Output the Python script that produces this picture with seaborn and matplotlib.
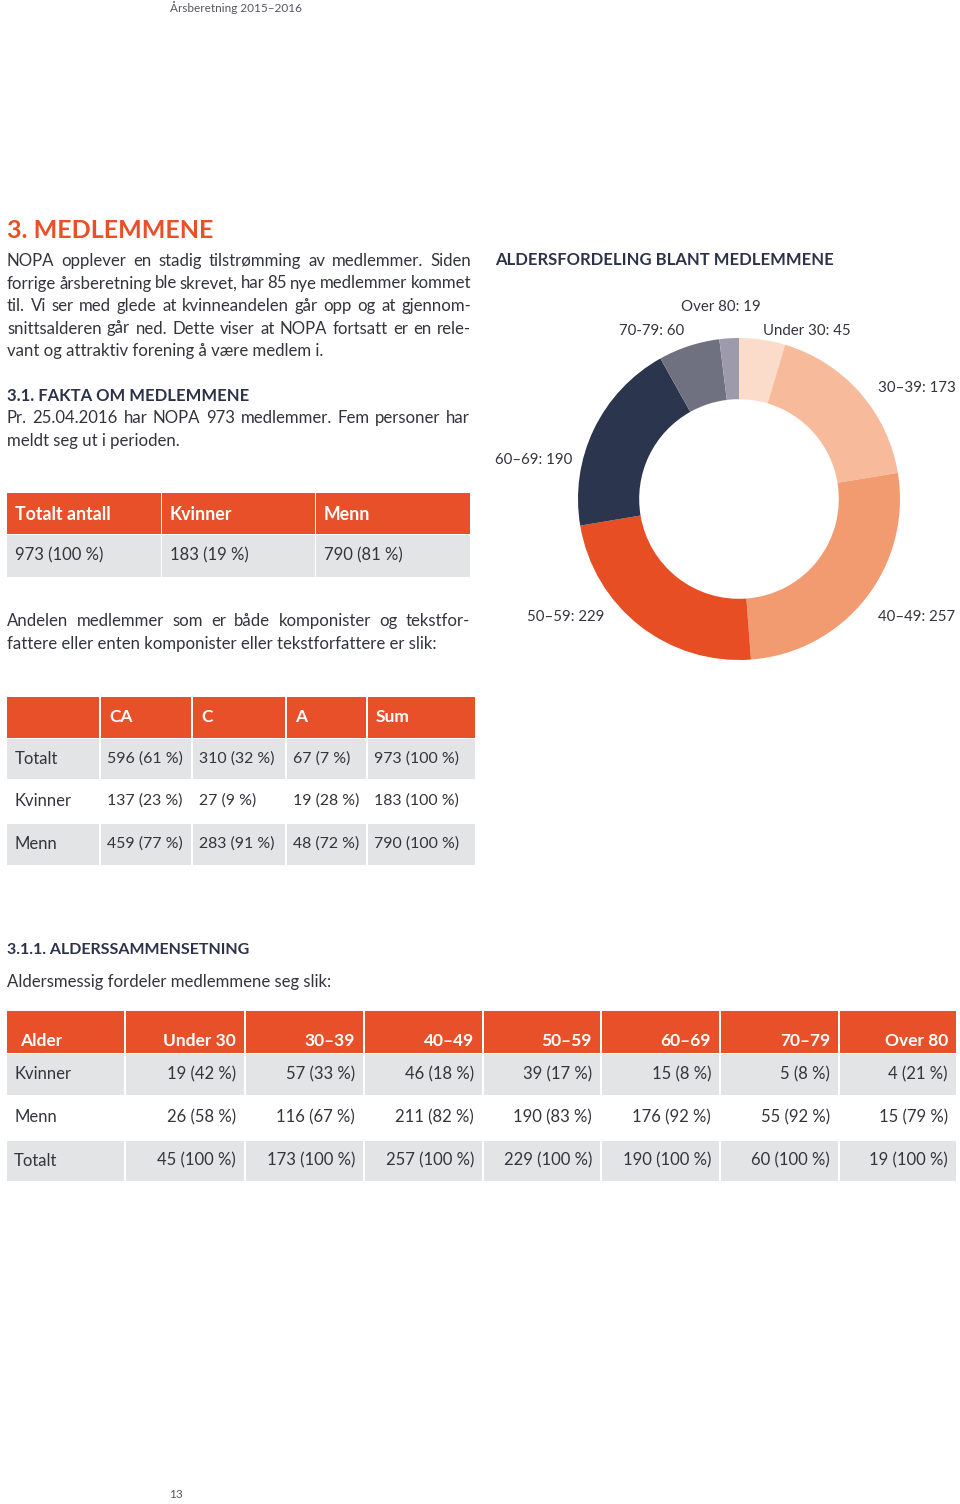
import matplotlib
matplotlib.use("Agg")
import matplotlib.pyplot as plt
from matplotlib.patches import Rectangle
import seaborn as sns

sns.set_theme(style="white")
plt.rcParams['font.family'] = ['Lato', 'DejaVu Sans']

# ---------------- data ----------------
age_groups = ["Under 30", "30–39", "40–49", "50–59", "60–69", "70–79", "Over 80"]
donut_labels = ["Under 30", "30–39", "40–49", "50–59", "60–69", "70-79", "Over 80"]
age_total = [45, 173, 257, 229, 190, 60, 19]
age_kvinner = [19, 57, 46, 39, 15, 5, 4]
age_kvinner_pct = [42, 33, 18, 17, 8, 8, 21]
age_menn = [26, 116, 211, 190, 176, 55, 15]
age_menn_pct = [58, 67, 82, 83, 92, 92, 79]
age_total_pct = [100, 100, 100, 100, 100, 100, 100]

members_header = ["Totalt antall", "Kvinner", "Menn"]
members_count = [973, 183, 790]
members_pct = [100, 19, 81]

role_header = ["", "CA", "C", "A", "Sum"]
role_rows = ["Totalt", "Kvinner", "Menn"]
role_totalt = [596, 310, 67, 973]
role_totalt_pct = [61, 32, 7, 100]
role_kvinner = [137, 27, 19, 183]
role_kvinner_pct = [23, 9, 28, 100]
role_menn = [459, 283, 48, 790]
role_menn_pct = [77, 91, 72, 100]

# ---------------- style ----------------
ORANGE = "#e8502a"
NAVY = "#2b3249"
TEXT = "#33343c"
GREY = "#e3e4e6"
donut_colors = ["#fbdccb", "#f7bb9c", "#f29b70", "#e84e23", "#2b354d", "#6f7181", "#9d9bab"]
BODY = 12.1

W, H = 960, 1504
fig = plt.figure(figsize=(W / 100, H / 100), dpi=100)
fig.patch.set_facecolor("white")
ax = fig.add_axes([0, 0, 1, 1])
ax.set_xlim(0, W)
ax.set_ylim(H, 0)
ax.axis("off")
renderer = fig.canvas.get_renderer()


def txt(x, y, s, size=12, color=TEXT, weight="normal", ha="left"):
    return ax.text(x, y, s, fontsize=size, color=color, fontweight=weight, ha=ha, va="center")


def justify(x0, x1, y, line, size=12, color=TEXT):
    words = line.split(" ")
    arts = [txt(0, y, w, size=size, color=color) for w in words]
    widths = [a.get_window_extent(renderer).width for a in arts]
    gap = (x1 - x0 - sum(widths)) / (len(words) - 1)
    x = x0
    for a, w in zip(arts, widths):
        a.set_x(x)
        x += w + gap


def fmt(v, p):
    return f"{v} ({p} %)"


# page header / footer
txt(170, 8, "Årsberetning 2015–2016", size=8.5, color="#555560")
txt(169, 1495, "13", size=8.5, color="#555560")

# section text
txt(7, 231, "3. MEDLEMMENE", size=18, color=ORANGE, weight="bold")
para1 = ["NOPA opplever en stadig tilstrømming av medlemmer. Siden",
         "forrige årsberetning ble skrevet, har 85 nye medlemmer kommet",
         "til. Vi ser med glede at kvinneandelen går opp og at gjennom-",
         "snittsalderen går ned. Dette viser at NOPA fortsatt er en rele-",
         "vant og attraktiv forening å være medlem i."]
for i, line in enumerate(para1):
    if i < len(para1) - 1:
        justify(7, 471, 261 + i * 22.5, line, size=BODY)
    else:
        txt(7, 261 + i * 22.5, line, size=BODY)

txt(7, 396, "3.1. FAKTA OM MEDLEMMENE", size=12, color=NAVY, weight="bold")
justify(7, 470, 418, "Pr. 25.04.2016 har NOPA 973 medlemmer. Fem personer har", size=BODY)
txt(7, 441, "meldt seg ut i perioden.", size=BODY)

# ---------------- table 1 ----------------
t1_cols = [(7, 161), (162, 315), (316, 470)]
for (x0, x1), h, v, p in zip(t1_cols, members_header, members_count, members_pct):
    ax.add_patch(Rectangle((x0, 493), x1 - x0, 41, color=ORANGE, lw=0))
    ax.add_patch(Rectangle((x0, 535), x1 - x0, 42, color=GREY, lw=0))
    txt(x0 + 8, 514, h, size=12.8, color="white", weight="bold")
    txt(x0 + 8, 555, fmt(v, p), size=12)

justify(7, 470, 621, "Andelen medlemmer som er både komponister og tekstfor-", size=BODY)
txt(7, 644, "fattere eller enten komponister eller tekstforfattere er slik:", size=BODY)

# ---------------- table 2 ----------------
t2_cols = [(7, 99), (101, 191), (193, 285), (287, 366), (368, 475)]
t2_rows = [(738, 779, True), (779, 823, False), (823, 865, True)]
role_vals = [(role_totalt, role_totalt_pct), (role_kvinner, role_kvinner_pct),
             (role_menn, role_menn_pct)]
for (x0, x1), h in zip(t2_cols, role_header):
    ax.add_patch(Rectangle((x0, 697), x1 - x0, 41, color=ORANGE, lw=0))
    txt(x0 + 8, 717, h, size=12.5, color="white", weight="bold")
for (y0, y1, shade), name, (vals, pcts) in zip(t2_rows, role_rows, role_vals):
    for j, (x0, x1) in enumerate(t2_cols):
        if shade:
            ax.add_patch(Rectangle((x0, y0 + 1), x1 - x0, y1 - y0 - 1, color=GREY, lw=0))
    yc = (y0 + y1) / 2
    txt(t2_cols[0][0] + 8, yc, name, size=12)
    for (x0, x1), v, p in zip(t2_cols[1:], vals, pcts):
        txt(x0 + 6, yc, fmt(v, p), size=11.4)

# ---------------- table 3 ----------------
txt(7, 950, "3.1.1. ALDERSSAMMENSETNING", size=11.5, color=NAVY, weight="bold")
txt(7, 982, "Aldersmessig fordeler medlemmene seg slik:", size=BODY)

edges = [7, 125, 245, 364, 483, 601, 720, 839, 957]
t3_rows = [("Kvinner", age_kvinner, age_kvinner_pct, 1053, 1095, True),
           ("Menn", age_menn, age_menn_pct, 1095, 1140, False),
           ("Totalt", age_total, age_total_pct, 1140, 1181, True)]
header = ["Alder"] + age_groups
for j in range(len(edges) - 1):
    x0, x1 = edges[j] + (0 if j == 0 else 1), edges[j + 1] - 1
    ax.add_patch(Rectangle((x0, 1011), x1 - x0, 42, color=ORANGE, lw=0))
    if j == 0:
        txt(x0 + 13, 1041, header[j], size=12.5, color="white", weight="bold")
    else:
        txt(x1 - 8, 1041, header[j], size=12.5, color="white", weight="bold", ha="right")
for name, vals, pcts, y0, y1, shade in t3_rows:
    yc = (y0 + y1) / 2
    for j in range(len(edges) - 1):
        x0, x1 = edges[j] + (0 if j == 0 else 1), edges[j + 1] - 1
        if shade:
            ax.add_patch(Rectangle((x0, y0 + 1), x1 - x0, y1 - y0 - 1, color=GREY, lw=0))
    txt(14, yc, name, size=12)
    for j, (v, p) in enumerate(zip(vals, pcts)):
        txt(edges[j + 2] - 9, yc, fmt(v, p), size=12, ha="right")

# ---------------- donut ----------------
txt(495, 260, "ALDERSFORDELING BLANT MEDLEMMENE", size=12, color=NAVY, weight="bold")
cx, cy, R = 739, 499, 161
dax = fig.add_axes([(cx - R) / W, 1 - (cy + R) / H, 2 * R / W, 2 * R / H])
dax.pie(age_total, colors=donut_colors, startangle=90, counterclock=False,
        radius=1, wedgeprops=dict(width=0.38, edgecolor="none"))
dax.set_xlim(-1, 1)
dax.set_ylim(-1, 1)
dax.set_aspect("equal")
dax.axis("off")

label_pos = [(763, 331, "left"), (878, 388, "left"), (878, 617, "left"),
             (527, 617, "left"), (495, 460, "left"), (619, 331, "left"),
             (721, 307, "center")]
for (x, y, ha), lab, v in zip(label_pos, donut_labels, age_total):
    txt(x, y, f"{lab}: {v}", size=10.8, color=TEXT, ha=ha)

fig.savefig("out.png", dpi=100, facecolor="white")
